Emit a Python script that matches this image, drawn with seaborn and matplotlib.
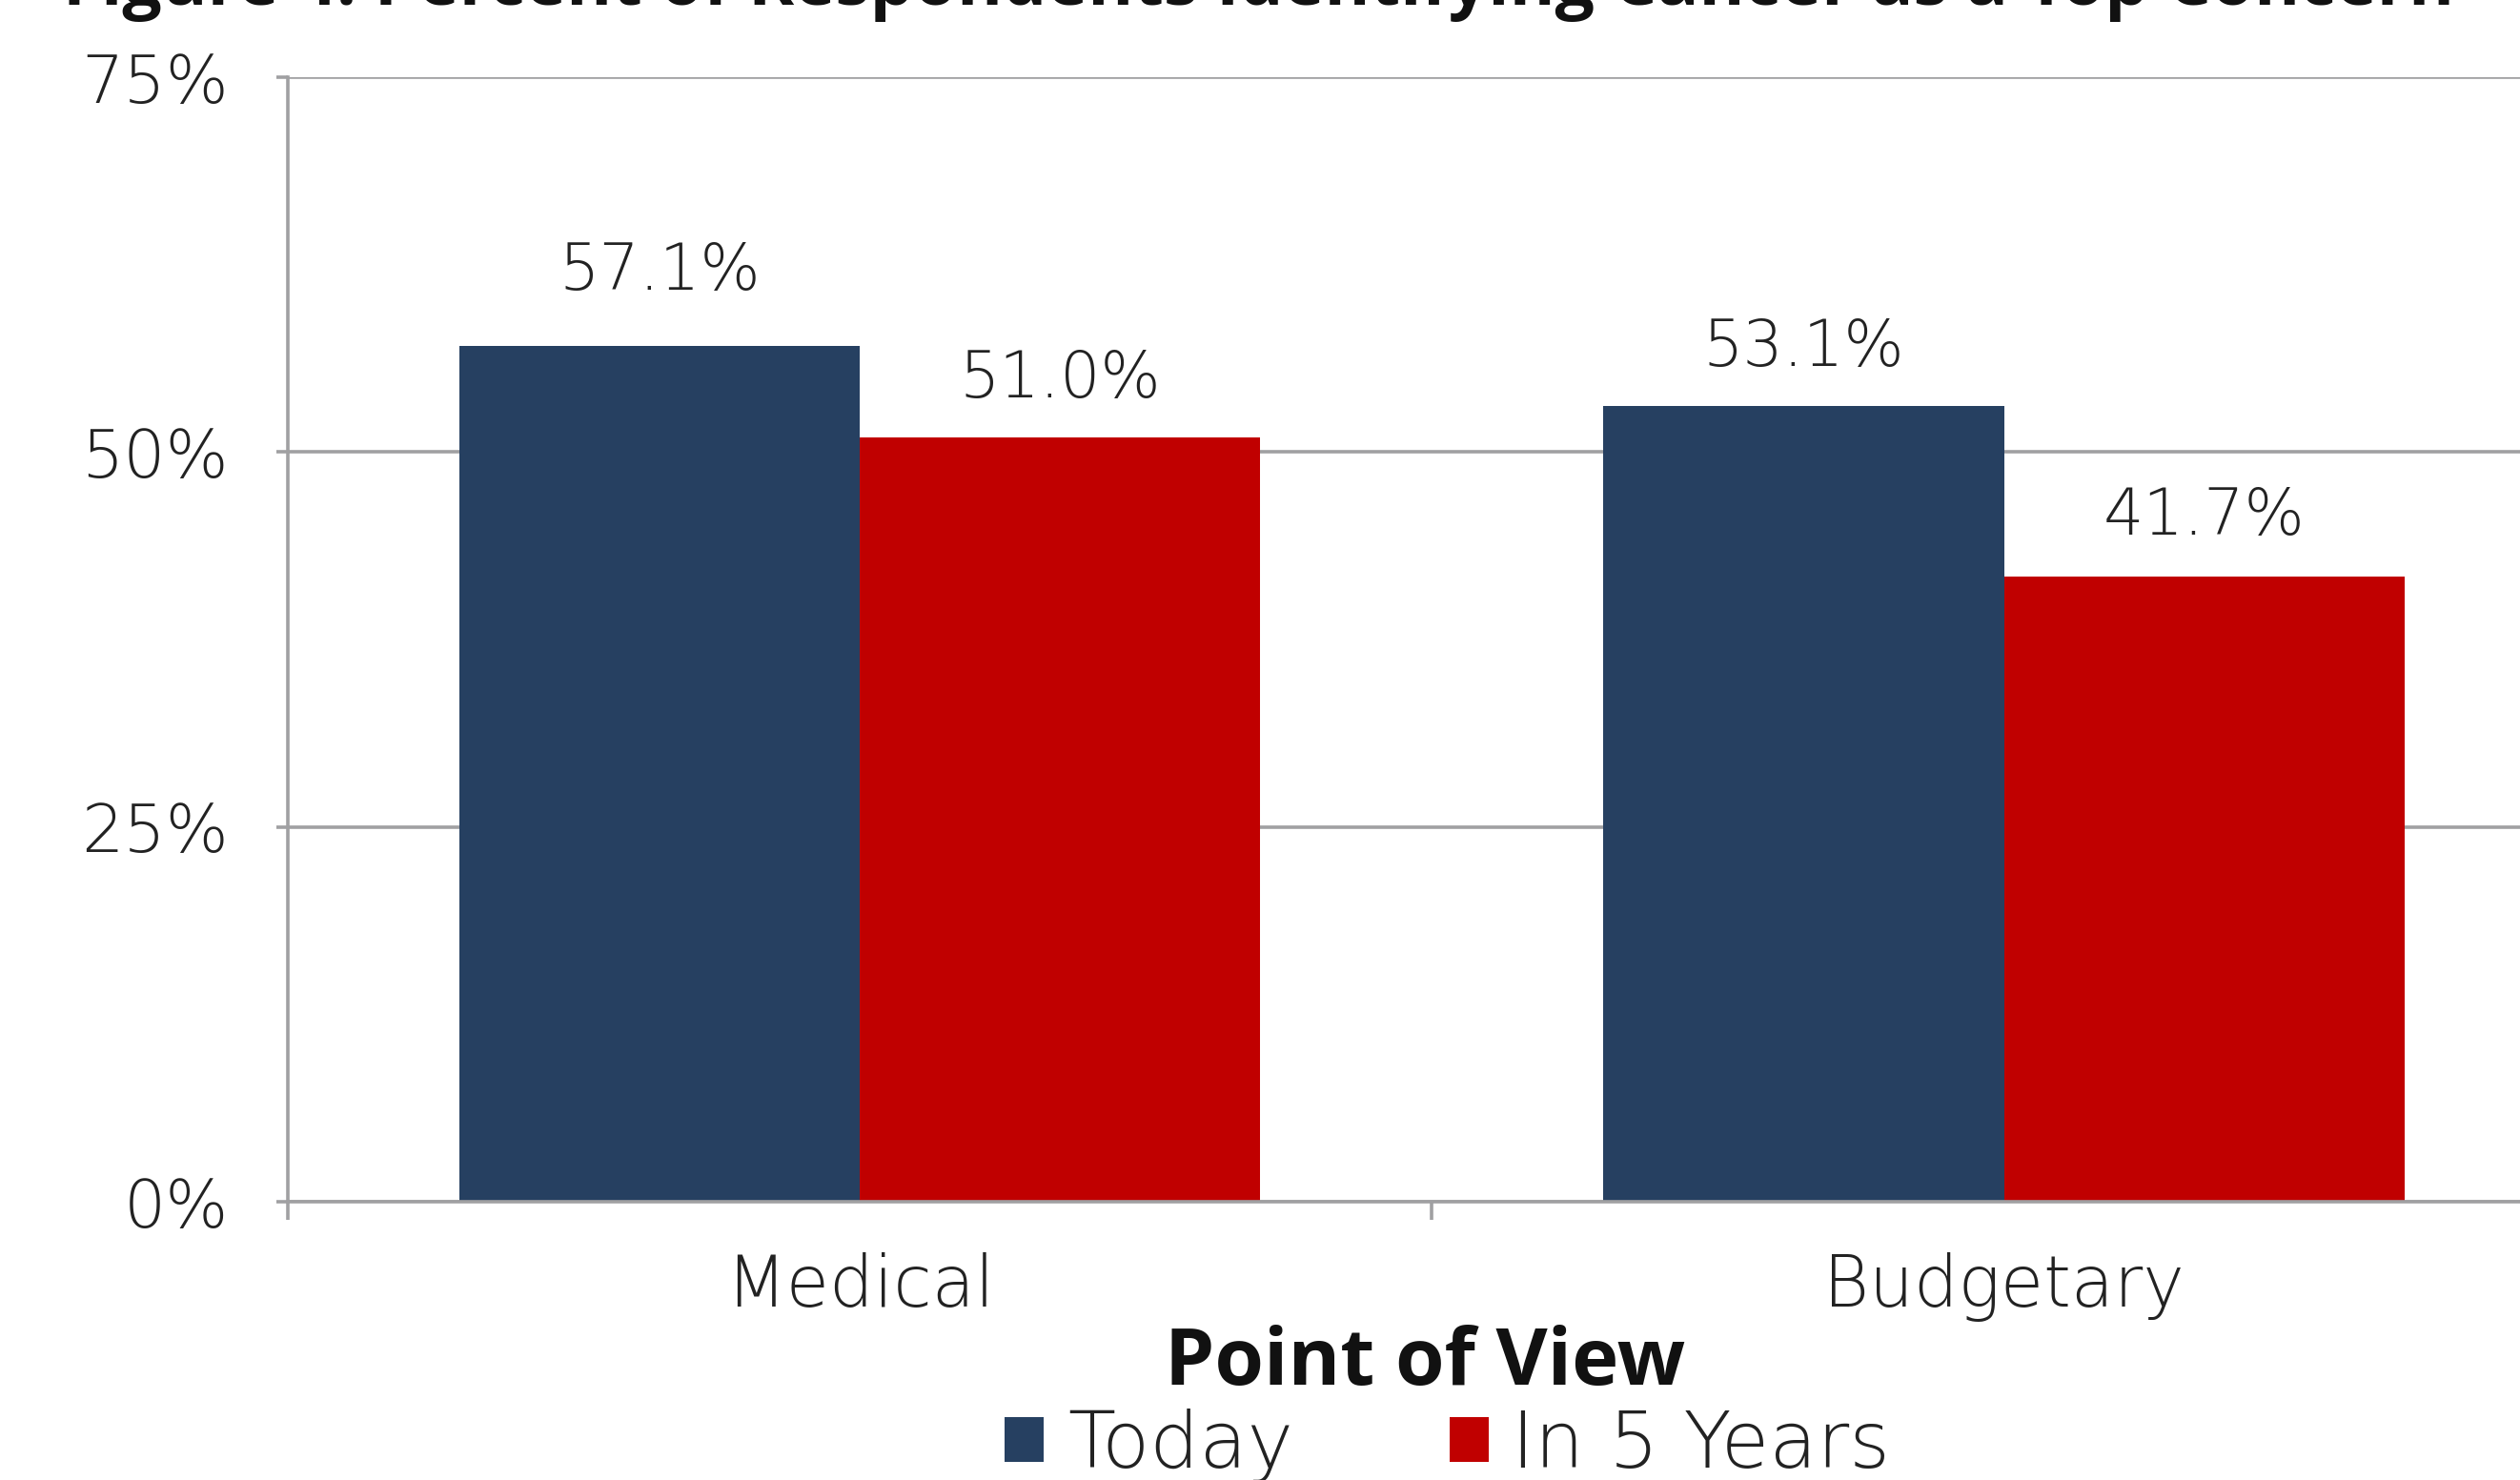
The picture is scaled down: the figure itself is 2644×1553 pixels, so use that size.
import matplotlib
matplotlib.use("Agg")
import matplotlib.pyplot as plt
import seaborn as sns
import pandas as pd
from matplotlib.ticker import FixedLocator, FuncFormatter

# ---- data ----
categories = ["Medical", "Budgetary"]
series_names = ["Today", "In 5 Years"]
today_values = [57.1, 53.1]
in5_values = [51.0, 41.7]
y_ticks = [0, 25, 50, 75]
title_text = "Figure 4: Percent of Respondents Identifying Cancer as a Top Concern"
x_title = "Point of View"
colors = ["#264061", "#C00000"]

df = pd.DataFrame({
    "category": categories * 2,
    "series": [series_names[0]] * 2 + [series_names[1]] * 2,
    "value": today_values + in5_values,
})

sns.set_theme(style="white")
plt.rcParams["font.family"] = ["DejaVu Sans"]

fig = plt.figure(figsize=(13.22, 7.765), dpi=200)
ax = fig.add_axes([0.1142, 0.188, 0.908, 0.7598])

sns.barplot(data=df, x="category", y="value", hue="series",
            order=categories, hue_order=series_names,
            palette=colors, width=0.7, saturation=1, ax=ax,
            edgecolor="none", linewidth=0, legend=True)

ax.set_ylim(0, 75)
ax.set_xlim(-0.5, 1.5)

grid_c = "#A0A0A2"
ax.yaxis.set_major_locator(FixedLocator(y_ticks))
ax.yaxis.set_major_formatter(FuncFormatter(lambda v, p: f"{int(v)}%"))
ax.grid(axis="y", color=grid_c, linewidth=1.3)
ax.grid(axis="x", visible=False)
ax.set_axisbelow(True)

for s in ["top", "right"]:
    ax.spines[s].set_visible(False)
for s in ["left", "bottom"]:
    ax.spines[s].set_color(grid_c)
    ax.spines[s].set_linewidth(1.3)

ax.tick_params(axis="y", which="major", left=True, length=4.3, width=1.3,
               color=grid_c, pad=18, labelsize=25, labelcolor="#222222")
ax.set_xticks([0, 1])
ax.set_xticks([-0.5, 0.5, 1.5], minor=True)
ax.tick_params(axis="x", which="major", bottom=True, length=0, pad=19,
               labelsize=26.5, labelcolor="#222222")
ax.tick_params(axis="x", which="minor", bottom=True, length=7, width=1.3,
               color=grid_c)
for lab in ax.get_yticklabels() + ax.get_xticklabels():
    lab.set_fontweight(200)

# data labels (offsets in points above each bar, in hue/category order)
label_offsets = [[21, 15], [15, 16]]
for si, cont in enumerate(ax.containers):
    for ci, bar in enumerate(cont):
        h = bar.get_height()
        ax.annotate(f"{h:.1f}%", (bar.get_x() + bar.get_width() / 2, h),
                    xytext=(0, label_offsets[si][ci]), textcoords="offset points",
                    ha="center", va="baseline", fontsize=24,
                    color="#222222", fontweight=200)

ax.set_ylabel("")
ax.set_xlabel(x_title, fontsize=30, fontweight="bold", family="Open Sans",
              color="#111111")
ax.xaxis.label.set_va("baseline")
ax.xaxis.set_label_coords(0.497, -0.1627)

# legend
handles, labels = ax.get_legend_handles_labels()
ax.legend_.remove()
leg = fig.legend(handles, labels, loc="center", bbox_to_anchor=(0.5745, 0.023),
                 ncol=2, frameon=False,
                 prop=dict(family="DejaVu Sans", weight=200, size=29.5),
                 handlelength=0.5, handleheight=0.5, handletextpad=0.3,
                 columnspacing=2.0, labelcolor="#222222")

fig.text(0.4995, 1 - 5 / 1553, title_text, ha="center", va="baseline",
         fontsize=26.3, fontweight="bold", family="Open Sans", color="#111111")

fig.savefig("out.png", dpi=200)
